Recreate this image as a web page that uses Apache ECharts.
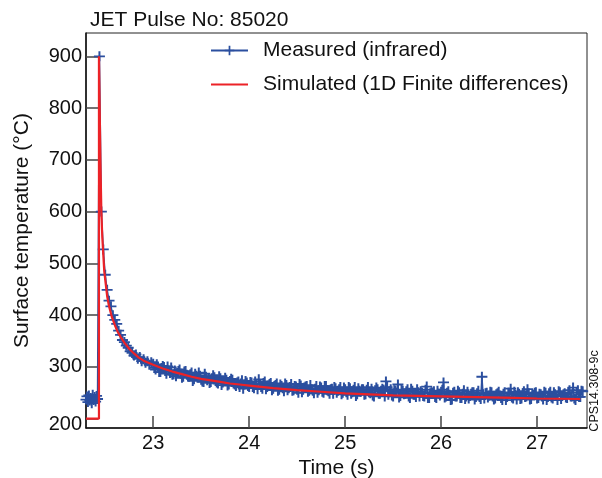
<!DOCTYPE html>
<html><head><meta charset="utf-8">
<script src="https://cdn.jsdelivr.net/npm/echarts@6/dist/echarts.min.js"></script>
<style>html,body{margin:0;padding:0;background:#fff}#c{width:602px;height:478px}</style>
</head><body><div id="c"></div>
<script>
const titleText = 'JET Pulse No: 85020';
const seriesNames = ['Measured (infrared)', 'Simulated (1D Finite differences)'];
const xTicks = [23, 24, 25, 26, 27];
const yTicks = [200, 300, 400, 500, 600, 700, 800, 900];

// Measured (infrared): [time s, temperature °C]
const measuredPre = [[22.30,237],[22.31,243],[22.32,232],[22.33,245],[22.34,235],[22.35,240],[22.36,230],[22.37,246],[22.38,236],[22.39,242],[22.40,233],[22.41,244],[22.42,238]];
const measuredPeak = [[22.44,900],[22.46,600],[22.48,527],[22.50,478],[22.52,449],[22.54,428],[22.56,417],[22.58,400],[22.60,391],[22.62,383],[22.64,370],[22.66,362],[22.68,352],[22.70,348],[22.72,341],[22.74,337],[22.76,330],[22.78,327],[22.80,322],[22.82,324],[22.84,316],[22.86,319],[22.88,311],[22.90,315],[22.92,308],[22.94,311],[22.96,304],[22.98,309]];
const measuredTail = [
[23.000,306],[23.025,295],[23.050,301],[23.075,290],[23.100,302],[23.125,292],[23.150,301],[23.175,288],[23.200,285],[23.225,293],
[23.250,288],[23.275,295],[23.300,279],[23.325,291],[23.350,285],[23.375,281],[23.400,289],[23.425,276],[23.450,283],[23.475,289],
[23.500,275],[23.525,271],[23.550,281],[23.575,278],[23.600,271],[23.625,284],[23.650,273],[23.675,268],[23.700,278],[23.725,270],
[23.750,279],[23.775,264],[23.800,273],[23.825,275],[23.850,266],[23.875,270],[23.900,261],[23.925,274],[23.950,266],[23.975,270],
[24.000,261],[24.025,270],[24.050,259],[24.075,267],[24.100,276],[24.125,261],[24.150,269],[24.175,257],[24.200,264],[24.225,269],
[24.250,258],[24.275,265],[24.300,254],[24.325,266],[24.350,259],[24.375,268],[24.400,255],[24.425,261],[24.450,254],[24.475,263],
[24.500,256],[24.525,267],[24.550,251],[24.575,260],[24.600,263],[24.625,254],[24.650,257],[24.675,249],[24.700,263],[24.725,255],
[24.750,260],[24.775,250],[24.800,263],[24.825,253],[24.850,257],[24.875,248],[24.900,259],[24.925,254],[24.950,261],[24.975,250],
[25.000,257],[25.025,246],[25.050,259],[25.075,251],[25.100,261],[25.125,247],[25.150,254],[25.175,257],[25.200,246],[25.225,256],
[25.250,251],[25.275,258],[25.300,243],[25.325,260],[25.350,248],[25.375,254],[25.400,256],[25.425,272],[25.450,246],[25.475,257],
[25.500,243],[25.525,254],[25.550,266],[25.575,244],[25.600,254],[25.625,248],[25.650,257],[25.675,240],[25.700,254],[25.725,246],
[25.750,257],[25.775,243],[25.800,250],[25.825,243],[25.850,262],[25.875,240],[25.900,251],[25.925,253],[25.950,240],[25.975,248],
[26.000,252],[26.025,270],[26.050,243],[26.075,253],[26.100,236],[26.125,250],[26.150,243],[26.175,254],[26.200,240],[26.225,248],
[26.250,238],[26.275,252],[26.300,244],[26.325,251],[26.350,237],[26.375,249],[26.400,242],[26.425,281],[26.450,239],[26.475,250],
[26.500,245],[26.525,251],[26.550,237],[26.575,247],[26.600,252],[26.625,240],[26.650,248],[26.675,236],[26.700,250],[26.725,258],
[26.750,239],[26.775,246],[26.800,251],[26.825,238],[26.850,249],[26.875,242],[26.900,257],[26.925,237],[26.950,247],[26.975,250],
[27.000,239],[27.025,248],[27.050,243],[27.075,252],[27.100,236],[27.125,249],[27.150,241],[27.175,251],[27.200,244],[27.225,253],
[27.250,238],[27.275,247],[27.300,241],[27.325,251],[27.350,243],[27.375,260],[27.400,236],[27.425,255],[27.450,242],[27.475,253]
];
const measuredTailMid = [
[23.0125,298],[23.0375,305],[23.0625,290],[23.0875,298],[23.1125,300],[23.1375,287],[23.1625,293],[23.1875,299],[23.2125,286],[23.2375,282],
[23.2625,292],[23.2875,287],[23.3125,281],[23.3375,292],[23.3625,282],[23.3875,286],[23.4125,273],[23.4375,287],[23.4625,279],[23.4875,283],
[23.5125,272],[23.5375,287],[23.5625,274],[23.5875,269],[23.6125,278],[23.6375,280],[23.6625,270],[23.6875,282],[23.7125,265],[23.7375,273],
[23.7625,275],[23.7875,266],[23.8125,277],[23.8375,268],[23.8625,263],[23.8875,272],[23.9125,268],[23.9375,258],[23.9625,273],[23.9875,263],
[24.0125,271],[24.0375,261],[24.0625,272],[24.0875,257],[24.1125,267],[24.1375,258],[24.1625,272],[24.1875,261],[24.2125,267],[24.2375,255],
[24.2625,263],[24.2875,268],[24.3125,256],[24.3375,263],[24.3625,253],[24.3875,265],[24.4125,259],[24.4375,267],[24.4625,255],[24.4875,262],
[24.5125,250],[24.5375,264],[24.5625,256],[24.5875,262],[24.6125,252],[24.6375,265],[24.6625,254],[24.6875,258],[24.7125,250],[24.7375,262],
[24.7625,252],[24.7875,263],[24.8125,255],[24.8375,248],[24.8625,258],[24.8875,261],[24.9125,250],[24.9375,257],[24.9625,247],[24.9875,260],
[25.0125,251],[25.0375,261],[25.0625,248],[25.0875,256],[25.1125,244],[25.1375,259],[25.1625,252],[25.1875,257],[25.2125,247],[25.2375,261],
[25.2625,249],[25.2875,245],[25.3125,255],[25.3375,257],[25.3625,248],[25.3875,258],[25.4125,243],[25.4375,261],[25.4625,253],[25.4875,245],
[25.5125,255],[25.5375,250],[25.5625,241],[25.5875,256],[25.6125,247],[25.6375,253],[25.6625,243],[25.6875,258],[25.7125,246],[25.7375,242],
[25.7625,251],[25.7875,253],[25.8125,244],[25.8375,256],[25.8625,240],[25.8875,249],[25.9125,250],[25.9375,242],[25.9625,254],[25.9875,245],
[26.0125,256],[26.0375,241],[26.0625,250],[26.0875,246],[26.1125,237],[26.1375,252],[26.1625,243],[26.1875,251],[26.2125,240],[26.2375,255],
[26.2625,243],[26.2875,239],[26.3125,248],[26.3375,251],[26.3625,242],[26.3875,254],[26.4125,238],[26.4375,247],[26.4625,249],[26.4875,241],
[26.5125,252],[26.5375,243],[26.5625,239],[26.5875,249],[26.6125,245],[26.6375,236],[26.6625,251],[26.6875,242],[26.7125,250],[26.7375,241],
[26.7625,252],[26.7875,237],[26.8125,248],[26.8375,239],[26.8625,253],[26.8875,243],[26.9125,249],[26.9375,238],[26.9625,246],[26.9875,251],
[27.0125,240],[27.0375,247],[27.0625,237],[27.0875,250],[27.1125,242],[27.1375,252],[27.1625,239],[27.1875,247],[27.2125,236],[27.2375,251],
[27.2625,244],[27.2875,249],[27.3125,240],[27.3375,255],[27.3625,243],[27.3875,239],[27.4125,251],[27.4375,242],[27.4625,254]
];

// Simulated (1D finite differences): [time s, temperature °C]
const simulated = [[22.30,200],[22.435,200],[22.435,900],[22.45,700],[22.46,600],[22.47,550],[22.49,485],[22.52,437],[22.54,417],[22.57,396],[22.60,381],[22.63,368],[22.66,358],[22.70,347],[22.75,335],[22.80,326],[22.85,318],[22.90,312],[22.95,308],[23.00,304],[23.10,297],[23.20,291],[23.30,286],[23.40,281],[23.50,277],[23.60,274],[23.70,271],[23.80,268],[23.90,266],[24.00,264],[24.25,259],[24.50,255],[24.75,252],[25.00,249],[25.25,247],[25.50,245],[25.75,244],[26.00,243],[26.25,242],[26.50,241],[26.75,240],[27.00,239],[27.25,238.5],[27.45,238]];

const measured = measuredPre.concat(measuredPeak, measuredTail.concat(measuredTailMid).sort(function (a, b) { return a[0] - b[0]; }));
const FONT = '"Liberation Sans", Arial, Helvetica, sans-serif';
const BLUE = '#2b4f9f';
const RED = '#ec2227';
const CROSS = 'path://M8.2,0H11.8V8.2H20V11.8H11.8V20H8.2V11.8H0V8.2H8.2Z';

const chart = echarts.init(document.getElementById('c'), null, {renderer: 'canvas'});
chart.setOption({
  animation: false,
  backgroundColor: '#fff',
  textStyle: {fontFamily: FONT},
  title: {
    text: titleText, left: 90, top: 10, padding: 0,
    textStyle: {fontFamily: FONT, fontSize: 21, fontWeight: 'normal', color: '#111', lineHeight: 21}
  },
  legend: {
    orient: 'vertical', left: 210, top: 40, padding: 0, itemGap: 13,
    itemWidth: 37, itemHeight: 12,
    data: [{name: seriesNames[0]}, {name: seriesNames[1], icon: 'path://M0,0H40V2.4H0Z'}],
    textStyle: {fontFamily: FONT, fontSize: 21, color: '#111', padding: [0, 0, 0, 10]}
  },
  grid: {left: 86, right: 15, top: 33, bottom: 50, show: true, borderColor: '#222', borderWidth: 1, containLabel: false, outerBoundsMode: 'none'},
  xAxis: {
    type: 'value', min: 22.3, max: 27.52,
    name: 'Time (s)', nameLocation: 'middle', nameGap: 28,
    nameTextStyle: {fontFamily: FONT, fontSize: 21, color: '#111'},
    axisLine: {show: true, onZero: false, lineStyle: {color: '#111', width: 1.5}},
    axisTick: {show: true, inside: true, length: 12, customValues: xTicks, lineStyle: {color: '#444', width: 1.5}},
    axisLabel: {customValues: xTicks, margin: 5, fontFamily: FONT, fontSize: 20, color: '#111'},
    splitLine: {show: false}
  },
  yAxis: {
    type: 'value', min: 182, max: 945,
    name: 'Surface temperature (°C)', nameLocation: 'middle', nameGap: 53, nameRotate: 90,
    nameTextStyle: {fontFamily: FONT, fontSize: 21, color: '#111'},
    axisLine: {show: true, onZero: false, lineStyle: {color: '#111', width: 1.5}},
    axisTick: {show: true, inside: true, length: 12, customValues: yTicks, lineStyle: {color: '#444', width: 1.5}},
    axisLabel: {
      customValues: yTicks, margin: 4, fontFamily: FONT, fontSize: 20, color: '#111',
      formatter: function (v) { return v === 200 ? '{low|200}' : String(v); },
      rich: {low: {fontFamily: FONT, fontSize: 20, color: '#111', padding: [12, 0, 0, 0]}}
    },
    splitLine: {show: false}
  },
  series: [
    {
      name: seriesNames[0], type: 'line', data: measured,
      symbol: CROSS, symbolSize: [11, 10], showAllSymbol: true, showSymbol: true,
      itemStyle: {color: BLUE}, lineStyle: {color: BLUE, width: 1.5},
      emphasis: {disabled: true}, z: 2
    },
    {
      name: seriesNames[1], type: 'line', data: simulated,
      symbol: 'none', showSymbol: false,
      itemStyle: {color: RED}, lineStyle: {color: RED, width: 2.2},
      emphasis: {disabled: true}, z: 3
    }
  ],
  graphic: [{
    type: 'text', x: 595, y: 391, rotation: Math.PI / 2,
    style: {text: 'CPS14.308-9c', fontFamily: FONT, fontSize: 12.5, fill: '#111', textAlign: 'center', textVerticalAlign: 'middle'}
  }]
});
</script></body></html>
